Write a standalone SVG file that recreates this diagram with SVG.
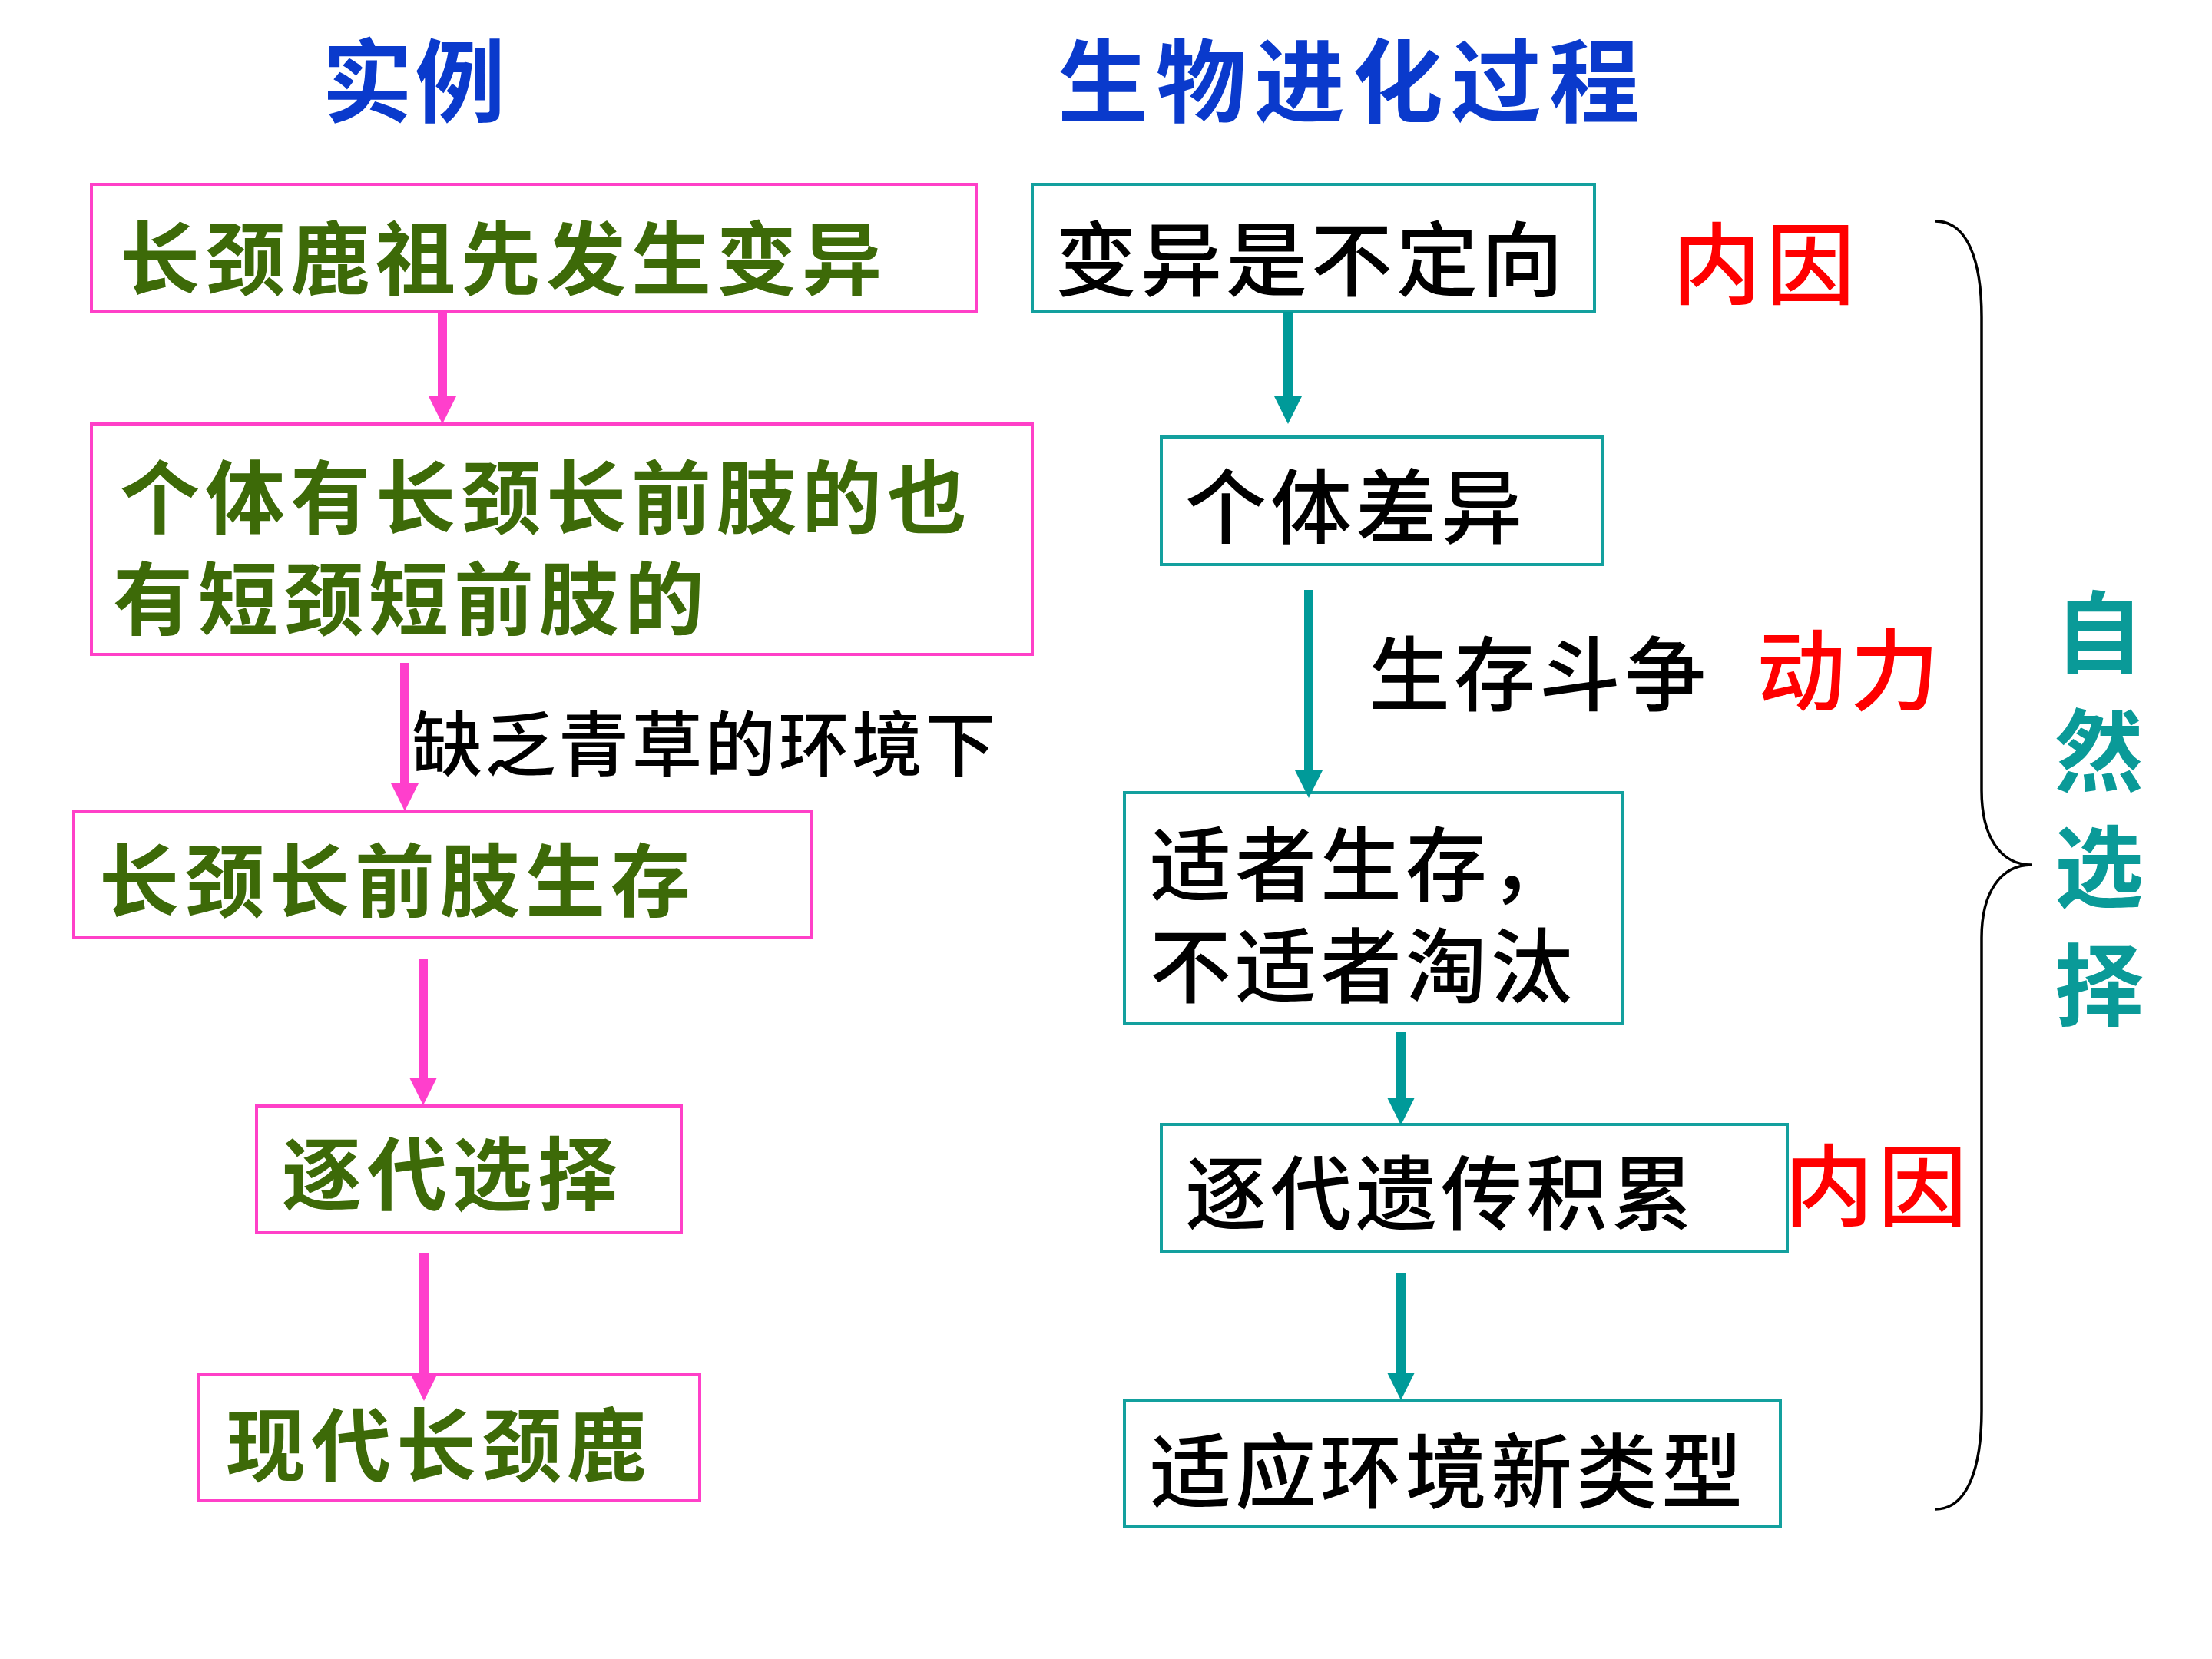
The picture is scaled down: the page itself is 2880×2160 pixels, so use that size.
<svg xmlns="http://www.w3.org/2000/svg" width="2880" height="2160" viewBox="0 0 2880 2160">
<style>
.pbox{fill:none;stroke:#FF40C8;stroke-width:4}
.tbox{fill:none;stroke:#13A09E;stroke-width:4}
.green{font-family:"Liberation Sans","Noto Sans CJK SC","Noto Sans CJK TC",sans-serif;font-weight:700;font-size:104px;letter-spacing:7px;fill:#3D6A08}
.black{font-family:"Liberation Sans","Noto Sans CJK SC","Noto Sans CJK TC",sans-serif;font-weight:500;font-size:106px;letter-spacing:5px;fill:#000}
.lbl{font-size:92px;letter-spacing:3.5px}
.red{font-family:"Liberation Sans","Noto Sans CJK SC",sans-serif;font-weight:500;font-size:116px;letter-spacing:6px;fill:#FF0000}
.title{font-family:"Liberation Sans","Noto Sans CJK SC",sans-serif;font-weight:700;font-size:118px;fill:#0A3ACC}
.vert{font-family:"Liberation Sans","Noto Sans CJK SC",sans-serif;font-weight:700;font-size:116px;fill:#0A9A98;text-anchor:middle}
.pa{stroke:#FF3FCC;stroke-width:12;fill:none}
.ta{stroke:#009A99;stroke-width:12;fill:none}
</style>
<defs>
<marker id="hp" markerUnits="userSpaceOnUse" markerWidth="36" markerHeight="36" refX="0" refY="18" orient="auto" viewBox="0 0 36 36"><path d="M0,0 L36,18 L0,36 z" fill="#FF3FCC"/></marker>
<marker id="ht" markerUnits="userSpaceOnUse" markerWidth="36" markerHeight="36" refX="0" refY="18" orient="auto" viewBox="0 0 36 36"><path d="M0,0 L36,18 L0,36 z" fill="#009A99"/></marker>
</defs>
<rect width="2880" height="2160" fill="#fff"/>
<g id="titles">
<text class="title" x="419" y="150" letter-spacing="3">实例</text>
<text class="title" x="1377" y="150" letter-spacing="10">生物进化过程</text>
</g>
<g id="nodeA"><rect class="pbox" x="119" y="240" width="1152" height="166"/><text class="green" x="156" y="376">长颈鹿祖先发生变异</text></g>
<g id="nodeB"><rect class="pbox" x="119" y="552" width="1225" height="300"/><text class="green" x="156" y="687">个体有长颈长前肢的也</text><text class="green" x="147" y="819">有短颈短前肢的</text></g>
<g id="nodeC"><rect class="pbox" x="96" y="1056" width="960" height="165"/><text class="green" x="129" y="1186">长颈长前肢生存</text></g>
<g id="nodeD"><rect class="pbox" x="334" y="1440" width="553" height="165"/><text class="green" x="367" y="1568">逐代选择</text></g>
<g id="nodeE"><rect class="pbox" x="259" y="1789" width="652" height="165"/><text class="green" x="294" y="1921">现代长颈鹿</text></g>
<g id="nodeF"><rect class="tbox" x="1344" y="240" width="732" height="166"/><text class="black" x="1374" y="377">变异是不定向</text></g>
<g id="nodeG"><rect class="tbox" x="1512" y="569" width="575" height="166"/><text class="black" x="1543" y="699">个体差异</text></g>
<g id="nodeH"><rect class="tbox" x="1464" y="1032" width="648" height="300"/><text class="black" x="1497" y="1165">适者生存，</text><text class="black" x="1497" y="1297">不适者淘汰</text></g>
<g id="nodeI"><rect class="tbox" x="1512" y="1464" width="815" height="165"/><text class="black" x="1543" y="1593">逐代遗传积累</text></g>
<g id="nodeJ"><rect class="tbox" x="1464" y="1824" width="854" height="163"/><text class="black" x="1497" y="1955">适应环境新类型</text></g>
<g id="labels">
<text class="black lbl" x="536" y="1003">缺乏青草的环境下</text>
<text class="black" x="1782" y="917">生存斗争</text>
<text class="red" x="2177" y="387">内因</text>
<text class="red" x="2287" y="916">动力</text>
<text class="red" x="2323" y="1587">内因</text>
</g>
<g id="connectors">
<line class="pa" x1="576" y1="406" x2="576" y2="516" marker-end="url(#hp)"/>
<line class="pa" x1="527" y1="863" x2="527" y2="1020" marker-end="url(#hp)"/>
<line class="pa" x1="551" y1="1249" x2="551" y2="1403" marker-end="url(#hp)"/>
<line class="pa" x1="552" y1="1632" x2="552" y2="1788" marker-end="url(#hp)"/>
<line class="ta" x1="1677" y1="406" x2="1677" y2="516" marker-end="url(#ht)"/>
<line class="ta" x1="1704" y1="768" x2="1704" y2="1003" marker-end="url(#ht)"/>
<line class="ta" x1="1824" y1="1344" x2="1824" y2="1429" marker-end="url(#ht)"/>
<line class="ta" x1="1824" y1="1657" x2="1824" y2="1787" marker-end="url(#ht)"/>
</g>
<g id="brace">
<path d="M2520,288 C2562,288 2580,340 2580,413 L2580,1029 C2580,1090 2605,1126 2645,1126 C2605,1126 2580,1162 2580,1221 L2580,1837 C2580,1910 2562,1965 2520,1965" fill="none" stroke="#000" stroke-width="3.5"/>
</g>
<g id="natural-selection">
<text class="vert" x="2733" y="867">自</text>
<text class="vert" x="2733" y="1021">然</text>
<text class="vert" x="2733" y="1172">选</text>
<text class="vert" x="2733" y="1326">择</text>
</g>
</svg>
